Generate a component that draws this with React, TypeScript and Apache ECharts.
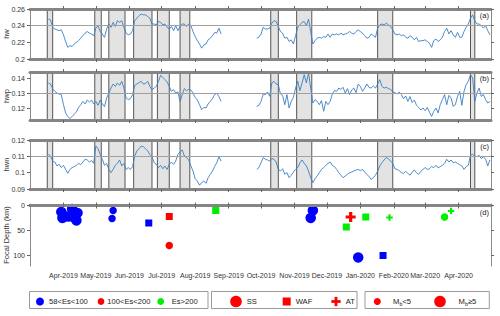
import React, { useEffect, useRef } from 'react';
import * as echarts from 'echarts';

const DAY = 86400000;
const ts = (s: string) => Date.parse(s);
const MONTHS = ['Jan', 'Feb', 'Mar', 'Apr', 'May', 'Jun', 'Jul', 'Aug', 'Sep', 'Oct', 'Nov', 'Dec'];
const FONT = '"Liberation Sans", Arial, Helvetica, sans-serif';

// ---------- data ----------
const xMin = '2019-03-01';
const xMax = '2020-05-01';
const monthTicks = ['2019-04-01', '2019-05-01', '2019-06-01', '2019-07-01', '2019-08-01', '2019-09-01',
  '2019-10-01', '2019-11-01', '2019-12-01', '2020-01-01', '2020-02-01', '2020-03-01', '2020-04-01'];
const seg1Start = '2019-03-18';
const seg2Start = '2019-09-27';
const stepDays = 2;

const hwSeg1 = [0.248, 0.247, 0.238, 0.236, 0.235, 0.234, 0.235, 0.229, 0.221, 0.214,
  0.216, 0.215, 0.218, 0.220, 0.222, 0.225, 0.228, 0.231, 0.233, 0.231,
  0.230, 0.228, 0.237, 0.240, 0.233, 0.230, 0.226, 0.236, 0.242, 0.238,
  0.244, 0.239, 0.246, 0.244, 0.246, 0.238, 0.231, 0.229, 0.230, 0.234,
  0.246, 0.249, 0.252, 0.254, 0.253, 0.253, 0.251, 0.249, 0.242, 0.242,
  0.241, 0.245, 0.244, 0.241, 0.242, 0.238, 0.236, 0.239, 0.234, 0.240,
  0.234, 0.239, 0.242, 0.242, 0.239, 0.242, 0.240, 0.233, 0.227, 0.222,
  0.218, 0.213, 0.217, 0.218, 0.223, 0.225, 0.228, 0.232, 0.231, 0.237,
  0.230];
const hwSeg2 = [0.225, 0.226, 0.230, 0.238, 0.236, 0.236, 0.237, 0.243, 0.246, 0.245,
  0.239, 0.233, 0.231, 0.225, 0.226, 0.221, 0.223, 0.218, 0.228, 0.238,
  0.241, 0.244, 0.245, 0.240, 0.248, 0.233, 0.218, 0.222, 0.225, 0.226,
  0.225, 0.227, 0.226, 0.230, 0.226, 0.230, 0.229, 0.230, 0.229, 0.231,
  0.229, 0.230, 0.231, 0.233, 0.231, 0.230, 0.233, 0.235, 0.233, 0.231,
  0.228, 0.225, 0.226, 0.230, 0.228, 0.226, 0.237, 0.241, 0.242, 0.241,
  0.243, 0.241, 0.239, 0.235, 0.230, 0.229, 0.230, 0.228, 0.229, 0.226,
  0.225, 0.228, 0.226, 0.223, 0.226, 0.221, 0.222, 0.222, 0.223, 0.221,
  0.219, 0.214, 0.222, 0.224, 0.221, 0.223, 0.226, 0.233, 0.237, 0.230,
  0.234, 0.229, 0.226, 0.232, 0.226, 0.226, 0.233, 0.238, 0.242, 0.249,
  0.253, 0.246, 0.242, 0.242, 0.240, 0.237, 0.240, 0.234, 0.229];

const hwpSeg1 = [0.1367, 0.1360, 0.1329, 0.1311, 0.1300, 0.1293, 0.1289, 0.1222, 0.1167, 0.1144,
  0.1129, 0.1144, 0.1160, 0.1173, 0.1204, 0.1222, 0.1244, 0.1227, 0.1253, 0.1240,
  0.1253, 0.1227, 0.1244, 0.1218, 0.1253, 0.1227, 0.1209, 0.1267, 0.1298, 0.1333,
  0.1360, 0.1344, 0.1367, 0.1351, 0.1378, 0.1333, 0.1267, 0.1256, 0.1262, 0.1289,
  0.1351, 0.1360, 0.1369, 0.1378, 0.1360, 0.1364, 0.1378, 0.1344, 0.1322, 0.1333,
  0.1344, 0.1378, 0.1418, 0.1404, 0.1389, 0.1373, 0.1344, 0.1311, 0.1322, 0.1300,
  0.1307, 0.1244, 0.1289, 0.1329, 0.1316, 0.1324, 0.1320, 0.1300, 0.1271, 0.1253,
  0.1222, 0.1189, 0.1204, 0.1200, 0.1227, 0.1244, 0.1262, 0.1289, 0.1298, 0.1276,
  0.1244];
const hwpSeg2 = [0.1211, 0.1218, 0.1244, 0.1293, 0.1289, 0.1307, 0.1278, 0.1367, 0.1378, 0.1360,
  0.1356, 0.1293, 0.1284, 0.1222, 0.1289, 0.1200, 0.1244, 0.1271, 0.1333, 0.1378,
  0.1316, 0.1367, 0.1422, 0.1367, 0.1433, 0.1333, 0.1233, 0.1256, 0.1244, 0.1222,
  0.1249, 0.1178, 0.1244, 0.1222, 0.1244, 0.1293, 0.1316, 0.1311, 0.1333, 0.1324,
  0.1338, 0.1300, 0.1329, 0.1289, 0.1320, 0.1333, 0.1302, 0.1360, 0.1344, 0.1311,
  0.1333, 0.1360, 0.1338, 0.1333, 0.1347, 0.1333, 0.1360, 0.1389, 0.1344, 0.1333,
  0.1338, 0.1329, 0.1324, 0.1307, 0.1302, 0.1293, 0.1307, 0.1289, 0.1262, 0.1280,
  0.1244, 0.1276, 0.1236, 0.1253, 0.1218, 0.1204, 0.1187, 0.1200, 0.1182, 0.1204,
  0.1173, 0.1144, 0.1178, 0.1200, 0.1167, 0.1222, 0.1256, 0.1289, 0.1222, 0.1284,
  0.1267, 0.1211, 0.1222, 0.1278, 0.1311, 0.1218, 0.1311, 0.1356, 0.1378, 0.1422,
  0.1400, 0.1244, 0.1300, 0.1333, 0.1278, 0.1289, 0.1256, 0.1233, 0.1244];

const hwnSeg1 = [0.1112, 0.1102, 0.1071, 0.1065, 0.1041, 0.1051, 0.1031, 0.1045, 0.1020, 0.0996,
  0.1020, 0.1031, 0.1037, 0.1045, 0.1057, 0.1049, 0.1065, 0.1082, 0.1078, 0.1065,
  0.1074, 0.1057, 0.1163, 0.1147, 0.1112, 0.1082, 0.1045, 0.1057, 0.1020, 0.1000,
  0.1020, 0.1045, 0.1057, 0.1078, 0.1041, 0.1057, 0.1020, 0.1031, 0.1020, 0.1037,
  0.1102, 0.1133, 0.1147, 0.1163, 0.1159, 0.1147, 0.1133, 0.1112, 0.1098, 0.1061,
  0.1051, 0.1031, 0.1045, 0.1024, 0.1041, 0.1020, 0.1051, 0.1065, 0.1051, 0.1071,
  0.1112, 0.1127, 0.1139, 0.1102, 0.1092, 0.1078, 0.1041, 0.1010, 0.0963, 0.0949,
  0.0923, 0.0939, 0.0949, 0.0935, 0.0969, 0.0990, 0.1010, 0.1037, 0.1061, 0.1098,
  0.1071];
const hwnSeg2 = [0.1020, 0.1031, 0.1061, 0.1092, 0.1082, 0.1078, 0.1071, 0.1086, 0.1082, 0.1065,
  0.1020, 0.1010, 0.1024, 0.0990, 0.1000, 0.0969, 0.0984, 0.1004, 0.1020, 0.1031,
  0.1061, 0.1078, 0.1057, 0.1041, 0.1010, 0.0969, 0.0939, 0.0963, 0.0980, 0.1000,
  0.1020, 0.1031, 0.1045, 0.1057, 0.1065, 0.1045, 0.1037, 0.1020, 0.1000, 0.0984,
  0.0969, 0.0980, 0.0990, 0.1000, 0.1004, 0.1010, 0.1016, 0.1020, 0.1012, 0.1020,
  0.1004, 0.0990, 0.0976, 0.0959, 0.0969, 0.0984, 0.1010, 0.1041, 0.1061, 0.1078,
  0.1092, 0.1086, 0.1071, 0.1057, 0.1024, 0.1020, 0.1012, 0.1000, 0.0996, 0.1008,
  0.0996, 0.0984, 0.1004, 0.1016, 0.1000, 0.0990, 0.1008, 0.1020, 0.1031, 0.1020,
  0.1024, 0.1037, 0.1031, 0.1045, 0.1029, 0.1037, 0.1045, 0.1057, 0.1082, 0.1065,
  0.1078, 0.1061, 0.1065, 0.1057, 0.1049, 0.1041, 0.1020, 0.1037, 0.1045, 0.1106,
  0.1112, 0.1102, 0.1098, 0.1106, 0.1086, 0.1098, 0.1082, 0.1041, 0.1078];

const hwRef = 0.2404;
const hwpRef = 0.1342;
const hwnRef = 0.1085;

const hwTicks = [0.2, 0.22, 0.24, 0.26];
const hwpTicks = [0.12, 0.13, 0.14];
const hwnTicks = [0.09, 0.1, 0.11, 0.12];
const depthTicks = [0, 50, 100];

const boxStarts = ['2019-03-17', '2019-04-30', '2019-05-13', '2019-06-05', '2019-06-27', '2019-07-18',
  '2019-10-10', '2019-11-03', '2020-01-17', '2020-04-12'];
const boxEnds = ['2019-03-22', '2019-05-06', '2019-05-28', '2019-06-22', '2019-07-08', '2019-07-27',
  '2019-10-17', '2019-11-17', '2020-01-31', '2020-04-16'];

const evDate = ['2019-03-30', '2019-03-31', '2019-04-03', '2019-04-06', '2019-04-09', '2019-04-11',
  '2019-04-13', '2019-04-14', '2019-05-17', '2019-05-16', '2019-06-19', '2019-07-08', '2019-07-08',
  '2019-08-20', '2019-11-18', '2019-11-16', '2019-12-19', '2019-12-23', '2019-12-30', '2020-01-06',
  '2020-01-22', '2020-01-28', '2020-03-19', '2020-03-25'];
const evDepth = [13, 25, 22, 22, 7, 24, 30, 15, 10, 26, 35, 22, 80, 10, 10, 25, 43, 23, 104, 23, 100, 24, 23, 11];
const evEs = [0, 0, 0, 0, 0, 0, 0, 0, 0, 0, 0, 1, 1, 2, 0, 0, 2, 1, 0, 2, 0, 2, 2, 2];
const evType = ['SS', 'SS', 'SS', 'SS', 'SS', 'SS', 'SS', 'SS', 'SS', 'SS', 'WAF', 'WAF', 'SS', 'WAF',
  'SS', 'SS', 'WAF', 'AT', 'SS', 'WAF', 'WAF', 'AT', 'SS', 'AT'];
const evMbHigh = [1, 1, 1, 1, 1, 1, 1, 1, 0, 0, 0, 0, 0, 0, 1, 1, 0, 1, 1, 0, 0, 0, 0, 0];

const esClasses = ['58<Es<100', '100<Es<200', 'Es>200'];
const esColors = ['#0000ff', '#ff0000', '#00ee00'];
const panelLabels = ['(a)', '(b)', '(c)', '(d)'];
const axisNames = ['hw', 'hwp', 'hwn', 'Focal Depth (km)'];

// ---------- styles ----------
const LINE = '#3b7fc4';
const PLUS = 'path://M3.4,0H6.6V3.4H10V6.6H6.6V10H3.4V6.6H0V3.4H3.4Z';
const GRIDS = [
  { left: 30, top: 9, width: 461, height: 50 },
  { left: 30, top: 72, width: 461, height: 48 },
  { left: 30, top: 140, width: 461, height: 49 },
  { left: 30, top: 204, width: 461, height: 62 },
];

function lineData(s1: number[], s2: number[]) {
  const a = s1.map((v, i) => [ts(seg1Start) + i * stepDays * DAY, v]);
  const b = s2.map((v, i) => [ts(seg2Start) + i * stepDays * DAY, v]);
  const gap = [ts('2019-09-10'), '-'];
  return [...a, gap, ...b];
}

const tickValues = monthTicks.map(ts);

function mkX(gridIndex: number, position: string, showLabel: boolean) {
  return {
    type: 'value', gridIndex, position,
    min: ts(xMin), max: ts(xMax),
    splitLine: { show: false },
    axisLine: { show: true, lineStyle: { color: '#858585', width: 3 } },
    axisTick: { show: true, inside: false, length: 3, customValues: tickValues, lineStyle: { color: '#666', width: 1 } },
    axisLabel: {
      show: showLabel, fontSize: 7, color: '#333', fontFamily: FONT, margin: 6,
      customValues: tickValues, hideOverlap: false,
      formatter: (v: number) => {
        const d = new Date(v);
        return MONTHS[d.getUTCMonth()] + '-' + d.getUTCFullYear();
      },
    },
    z: 5,
  };
}

function mkY(gridIndex: number, position: string, min: number, max: number, ticks: number[], name: string, inverse = false) {
  const left = position === 'left';
  return {
    type: 'value', gridIndex, position, min, max, inverse,
    name: left ? name : '', nameLocation: 'middle', nameGap: 20, nameMoveOverlap: false,
    nameTextStyle: { fontSize: 7.5, color: '#333', fontFamily: FONT },
    splitLine: { show: false },
    axisLine: { show: true, lineStyle: { color: '#8a8a8a', width: 1 } },
    axisTick: { show: true, inside: false, length: 3, customValues: ticks, lineStyle: { color: '#666', width: 1 } },
    axisLabel: { show: left, customValues: ticks, fontSize: 7, color: '#333', fontFamily: FONT, margin: 5 },
    z: 5,
  };
}

function buildOption() {
  const xAxis: any[] = [];
  const yAxis: any[] = [];
  const yDefs = [
    { min: 0.2, max: 0.26, ticks: hwTicks, inv: false },
    { min: 0.112, max: 0.144, ticks: hwpTicks, inv: false },
    { min: 0.09, max: 0.12, ticks: hwnTicks, inv: false },
    { min: -3, max: 121, ticks: depthTicks, inv: true },
  ];
  for (let i = 0; i < 4; i++) {
    xAxis.push(mkX(i, 'bottom', i === 3));
    xAxis.push(mkX(i, 'top', false));
    const d = yDefs[i];
    yAxis.push(mkY(i, 'left', d.min, d.max, d.ticks, axisNames[i], d.inv));
    yAxis.push(mkY(i, 'right', d.min, d.max, d.ticks, axisNames[i], d.inv));
  }

  const series: any[] = [];
  const panels = [
    { s1: hwSeg1, s2: hwSeg2, ref: hwRef },
    { s1: hwpSeg1, s2: hwpSeg2, ref: hwpRef },
    { s1: hwnSeg1, s2: hwnSeg2, ref: hwnRef },
  ];
  panels.forEach((p, i) => {
    const data = lineData(p.s1, p.s2);
    series.push({
      type: 'line', xAxisIndex: 2 * i, yAxisIndex: 2 * i, data, z: 1, silent: true,
      showSymbol: false, lineStyle: { opacity: 0 },
      markArea: {
        silent: true,
        itemStyle: { color: '#e3e3e3', borderColor: '#555', borderWidth: 1 },
        data: boxStarts.map((s, k) => [{ xAxis: ts(s) }, { xAxis: ts(boxEnds[k]) }]),
      },
    });
    series.push({
      type: 'line', xAxisIndex: 2 * i, yAxisIndex: 2 * i, data, z: 3,
      showSymbol: false, connectNulls: false,
      lineStyle: { color: LINE, width: 0.9 },
      markLine: {
        silent: true, symbol: 'none', label: { show: false },
        lineStyle: { color: '#a0a0a0', type: 'solid', width: 1 },
        data: [{ yAxis: p.ref }],
      },
    });
  });

  for (let c = 0; c < 3; c++) {
    const data: any[] = [];
    evDate.forEach((d, k) => {
      if (evEs[k] !== c) return;
      const t = evType[k];
      const hi = evMbHigh[k] === 1;
      let symbol = 'circle';
      let size = hi ? 10.5 : 7.5;
      if (t === 'WAF') { symbol = 'rect'; size = 7; }
      if (t === 'AT') { symbol = PLUS; size = hi ? 10 : 6.5; }
      data.push({ value: [ts(d), evDepth[k]], symbol, symbolSize: size });
    });
    series.push({
      type: 'scatter', name: esClasses[c], xAxisIndex: 6, yAxisIndex: 6, z: 4,
      data, itemStyle: { color: esColors[c], opacity: 1 },
    });
  }

  const txt = (text: string, x: number, y: number, size = 7.6, align = 'left') => ({
    type: 'text', x, y, silent: true,
    style: { text, font: `${size}px ${FONT}`, fill: '#222', textAlign: align, textVerticalAlign: 'middle' },
  });
  const box = (x: number, w: number) => ({
    type: 'rect', shape: { x, y: 291.5, width: w, height: 17 },
    style: { fill: '#fff', stroke: '#9a9a9a', lineWidth: 1 }, silent: true,
  });
  const dot = (cx: number, r: number, fill: string) => ({
    type: 'circle', shape: { cx, cy: 301.5, r }, style: { fill }, silent: true,
  });
  const LY = 301.5;
  const graphic: any[] = [
    txt(panelLabels[0], 489, 15, 7.5, 'right'),
    txt(panelLabels[1], 489, 78, 7.5, 'right'),
    txt(panelLabels[2], 489, 146.5, 7.5, 'right'),
    txt(panelLabels[3], 489, 212.5, 7.5, 'right'),
    box(29.5, 178.5),
    dot(40, 4, esColors[0]), txt(esClasses[0], 49, LY),
    dot(101, 3.4, esColors[1]), txt(esClasses[1], 107.3, LY),
    dot(160.7, 3.4, esColors[2]), txt(esClasses[2], 171.7, LY),
    box(211.5, 145.5),
    dot(236, 5.8, '#ff0000'), txt('SS', 246.7, LY),
    { type: 'rect', shape: { x: 282.7, y: LY - 4, width: 8, height: 8 }, style: { fill: '#ff0000' }, silent: true },
    txt('WAF', 295.7, LY),
    { type: 'rect', shape: { x: 334.6, y: LY - 4.65, width: 2.8, height: 9.3 }, style: { fill: '#ff0000' }, silent: true },
    { type: 'rect', shape: { x: 331.35, y: LY - 1.4, width: 9.3, height: 2.8 }, style: { fill: '#ff0000' }, silent: true },
    txt('AT', 345.7, LY),
    box(365, 124.3),
    dot(377.3, 3.5, '#ff0000'),
    txt('M', 393, LY), txt('b', 399.4, LY + 2.6, 5.3), txt('<5', 402.4, LY),
    dot(440, 5.8, '#ff0000'),
    txt('M', 458.5, LY), txt('b', 464.9, LY + 2.6, 5.3), txt('\u22655', 467.9, LY),
  ];

  return {
    animation: false,
    backgroundColor: '#ffffff',
    grid: GRIDS.map((g) => ({ ...g, show: false, containLabel: false, outerBoundsMode: 'none' })),
    xAxis, yAxis, series, graphic,
  };
}

export default function App() {
  const ref = useRef<HTMLDivElement>(null);
  useEffect(() => {
    const chart = echarts.init(ref.current!, undefined, { renderer: 'svg' });
    chart.setOption(buildOption() as any);
    return () => chart.dispose();
  }, []);
  return <div ref={ref} style={{ position: 'absolute', left: 0, top: 0, width: 500, height: 316 }} />;
}
